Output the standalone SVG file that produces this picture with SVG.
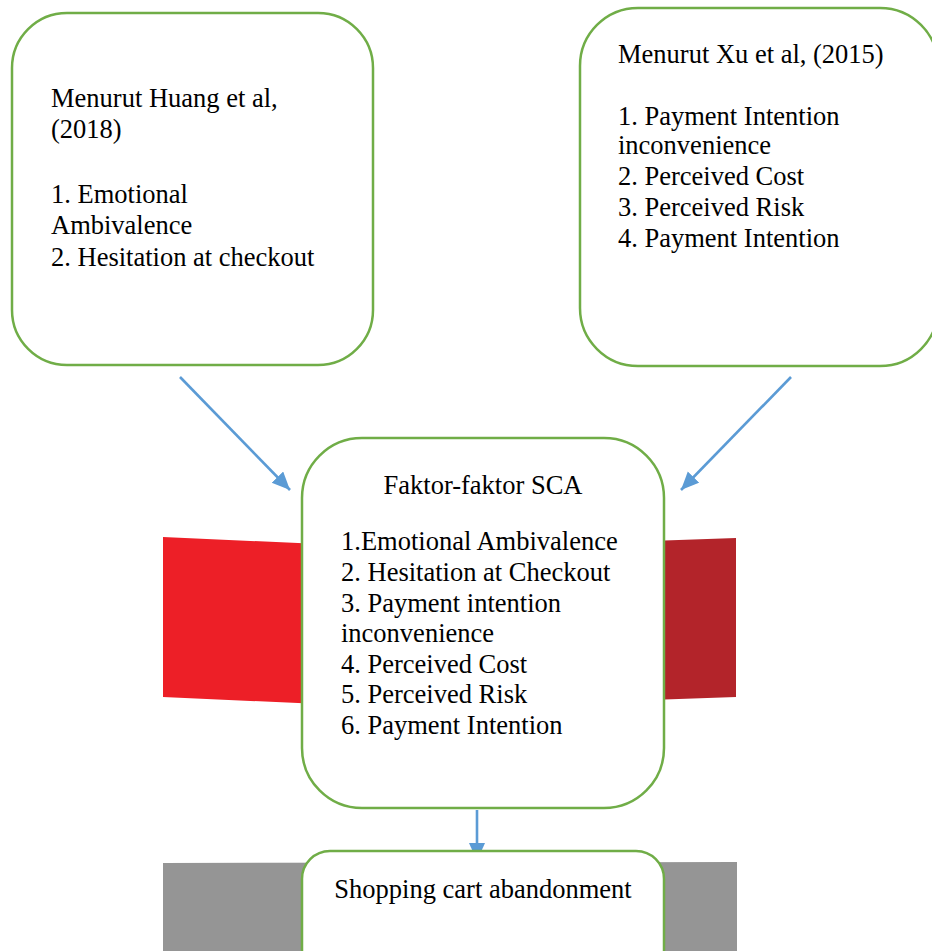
<svg xmlns="http://www.w3.org/2000/svg" width="932" height="951" viewBox="0 0 932 951">
<style>
.box{fill:#fff;stroke:#70AD47;stroke-width:2.5}
.t{font-family:"Liberation Serif","Times New Roman",serif;font-size:26.5px;fill:#000}
.c{stroke:#5B9BD5;stroke-width:2.6;fill:none}
</style>
<defs>
<marker id="ah" markerUnits="userSpaceOnUse" markerWidth="20" markerHeight="18" refX="18" refY="8" orient="auto">
<path d="M0,0 L18,8 L0,16 Z" fill="#5B9BD5"/>
</marker>
</defs>
<rect width="932" height="951" fill="#fff"/>
<g id="decor">
<polygon points="163,537 320,544 320,704 163,697" fill="#ED1F27"/>
<polygon points="650,541 736,538 736,697 650,700" fill="#B3242A"/>
<polygon points="163,863 737,862 737,951 163,951" fill="#959595"/>
</g>
<g id="connectors">
<line class="c" x1="180" y1="377" x2="290" y2="490" marker-end="url(#ah)"/>
<line class="c" x1="791" y1="377" x2="681" y2="490" marker-end="url(#ah)"/>
<line class="c" x1="477" y1="810" x2="477" y2="861" marker-end="url(#ah)"/>
</g>
<g id="huang">
<rect class="box" x="12" y="13" width="361" height="352" rx="55" ry="55"/>
<text class="t" x="51" y="107">Menurut Huang et al,</text>
<text class="t" x="51" y="138">(2018)</text>
<text class="t" x="51" y="203">1. Emotional</text>
<text class="t" x="51" y="234">Ambivalence</text>
<text class="t" x="51" y="266">2. Hesitation at checkout</text>
</g>
<g id="xu">
<rect class="box" x="580" y="8" width="358" height="358" rx="58" ry="58"/>
<text class="t" x="618" y="63">Menurut Xu et al, (2015)</text>
<text class="t" x="618" y="125">1. Payment Intention</text>
<text class="t" x="618" y="154">inconvenience</text>
<text class="t" x="618" y="185">2. Perceived Cost</text>
<text class="t" x="618" y="216">3. Perceived Risk</text>
<text class="t" x="618" y="247">4. Payment Intention</text>
</g>
<g id="sca">
<rect class="box" x="302" y="438" width="362" height="370" rx="60" ry="60"/>
<text class="t" x="483" y="494" text-anchor="middle">Faktor-faktor SCA</text>
<text class="t" x="341" y="550">1.Emotional Ambivalence</text>
<text class="t" x="341" y="581">2. Hesitation at Checkout</text>
<text class="t" x="341" y="612">3. Payment intention</text>
<text class="t" x="341" y="642">inconvenience</text>
<text class="t" x="341" y="673">4. Perceived Cost</text>
<text class="t" x="341" y="703">5. Perceived Risk</text>
<text class="t" x="341" y="734">6. Payment Intention</text>
</g>
<g id="sca_result">
<rect class="box" x="302" y="851" width="362" height="130" rx="28" ry="28"/>
<text class="t" x="483" y="898" text-anchor="middle">Shopping cart abandonment</text>
</g>
</svg>
